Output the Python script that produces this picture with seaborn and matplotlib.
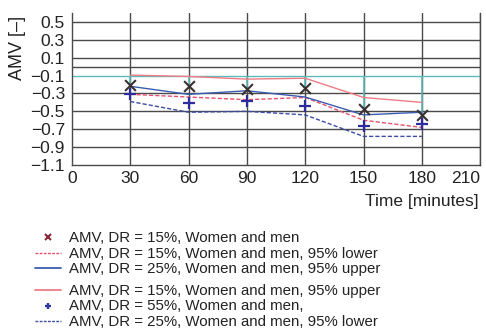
import matplotlib
matplotlib.use("Agg")
import matplotlib.pyplot as plt
from matplotlib.lines import Line2D
import seaborn as sns
import pandas as pd
import numpy as np

# ---- data ----
time_min = [30, 60, 90, 120, 150, 180]
amv_dr15 = [-0.21, -0.215, -0.255, -0.24, -0.47, -0.54]
amv_dr55 = [-0.31, -0.41, -0.39, -0.44, -0.66, -0.64]
dr15_upper = [-0.095, -0.11, -0.14, -0.13, -0.345, -0.40]
dr15_lower = [-0.31, -0.34, -0.37, -0.345, -0.60, -0.68]
dr25_upper = [-0.22, -0.31, -0.27, -0.34, -0.54, -0.51]
dr25_lower = [-0.39, -0.51, -0.50, -0.54, -0.78, -0.78]

x_ticks = [0, 30, 60, 90, 120, 150, 180, 210]
y_ticks = [0.5, 0.3, 0.1, -0.1, -0.3, -0.5, -0.7, -0.9, -1.1]
y_ticklabels = ["0.5", "0.3", "0.1", "\u22120.1", "\u22120.3", "\u22120.5", "\u22120.7", "\u22120.9", "\u22121.1"]

legend_labels_1 = ["AMV, DR = 15%, Women and men",
                   "AMV, DR = 15%, Women and men, 95% lower",
                   "AMV, DR = 25%, Women and men, 95% upper"]
legend_labels_2 = ["AMV, DR = 15%, Women and men, 95% upper",
                   "AMV, DR = 55%, Women and men,",
                   "AMV, DR = 25%, Women and men, 95% lower"]

sns.set_theme(style="white")
plt.rcParams["font.family"] = ["Liberation Sans", "DejaVu Sans"]

RED_SOLID = "#ee7c84"
RED_DASH = "#e8506e"
BLUE_SOLID = "#3a5cb0"
BLUE_DASH = "#3a4ca8"
GRID = "#4a4a4a"
TEAL = "#5cbcbc"

fig = plt.figure(figsize=(4.86, 3.32), dpi=100)
ax = fig.add_axes([0.148, 0.503, 0.840, 0.458])

ax.set_xlim(0, 210)
ax.set_ylim(-1.1, 0.6)

# grid
for yv in y_ticks[:-1]:
    if yv == -0.1:
        continue
    ax.axhline(yv, color=GRID, lw=1.0, zorder=1)
ax.axhline(0.0, color=GRID, lw=1.0, zorder=1)
ax.axhline(-0.1, color=TEAL, lw=1.0, zorder=1.2)
for xv in x_ticks[1:]:
    ax.axvline(xv, color=GRID, lw=1.0, zorder=1)

# teal stems from -0.1 to DR15 points
ax.vlines(time_min, [-0.1] * len(time_min), amv_dr15, color=TEAL, lw=1.2, zorder=1.5)

df = pd.DataFrame({
    "time": time_min * 4,
    "amv": dr15_upper + dr15_lower + dr25_upper + dr25_lower,
    "series": (["15u"] * 6 + ["15l"] * 6 + ["25u"] * 6 + ["25l"] * 6),
})
palette = {"15u": RED_SOLID, "15l": RED_DASH, "25u": BLUE_SOLID, "25l": BLUE_DASH}
dashes = {"15u": "", "15l": (3, 1.5), "25u": "", "25l": (3, 1.5)}
sns.lineplot(data=df, x="time", y="amv", hue="series", style="series",
             palette=palette, dashes=dashes, lw=1.0, ax=ax, legend=False, zorder=3)

sns.scatterplot(x=time_min, y=amv_dr15, marker="x", s=60, color="#3a3030",
                linewidth=1.5, ax=ax, zorder=4)
sns.scatterplot(x=time_min, y=amv_dr55, marker="+", s=75, color="#2c2c9c",
                linewidth=1.6, ax=ax, zorder=4)

ax.set_xticks(x_ticks)
ax.set_xticklabels([str(v) for v in x_ticks])
ax.set_yticks(y_ticks)
ax.set_yticklabels(y_ticklabels)
ax.tick_params(axis="both", labelsize=12.5, length=0, colors="#222222")
ax.tick_params(axis="x", pad=4)
ax.tick_params(axis="y", pad=5)
last = ax.get_xticklabels()[-1]
last.set_ha("right")

for s in ["left", "bottom", "right"]:
    ax.spines[s].set_color(GRID)
    ax.spines[s].set_linewidth(1.0)
ax.spines["top"].set_visible(False)

ax.set_ylabel("AMV [\u2013]", fontsize=13, color="#222222")
ax.yaxis.set_label_coords(-0.112, 0.77)
ax.set_xlabel("Time [minutes]", fontsize=12.5, color="#222222", ha="right")
ax.xaxis.set_label_coords(0.995, -0.19)

h1 = [Line2D([], [], ls="none", marker="x", ms=4.5, mew=1.5, color="#8b2a3a"),
      Line2D([], [], ls=(0, (2, 1)), lw=1.0, color=RED_DASH),
      Line2D([], [], ls="-", lw=1.3, color=BLUE_SOLID)]
h2 = [Line2D([], [], ls="-", lw=1.3, color=RED_SOLID),
      Line2D([], [], ls="none", marker="+", ms=5, mew=1.7, color="#2c3c9c"),
      Line2D([], [], ls=(0, (2, 1)), lw=1.0, color=BLUE_DASH)]

common = dict(frameon=False, fontsize=10.8, handlelength=1.75, handletextpad=0.5,
              handleheight=0.5, labelspacing=0.1, borderpad=0, borderaxespad=0,
              labelcolor="#222222")
leg1 = fig.legend(h1, legend_labels_1, loc="upper left",
                  bbox_to_anchor=(35 / 486, 1 - 231 / 332), **common)
leg2 = fig.legend(h2, legend_labels_2, loc="upper left",
                  bbox_to_anchor=(35 / 486, 1 - 284 / 332), **common)

fig.savefig("out.png", dpi=100)
